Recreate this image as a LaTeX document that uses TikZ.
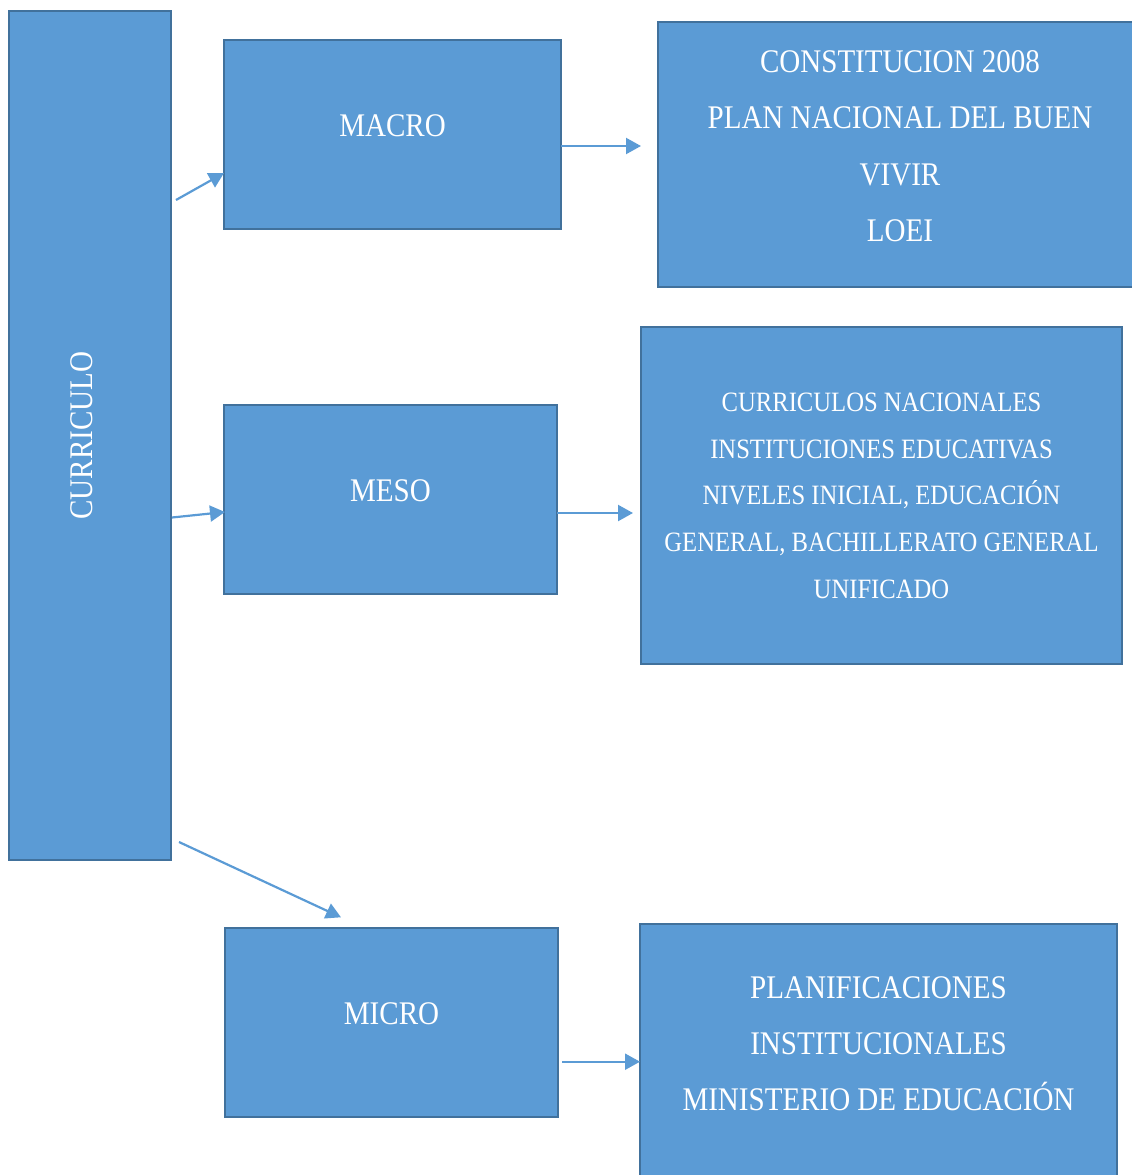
\documentclass[tikz,border=0pt]{standalone}
\usepackage{fontspec}
\setmainfont[FakeStretch=0.88]{Liberation Serif}
\usepackage{tikz}
\usetikzlibrary{arrows.meta,positioning}
\definecolor{boxfill}{HTML}{5B9BD5}
\definecolor{boxline}{HTML}{41719C}

\begin{document}
\begin{tikzpicture}[x=1pt,y=-1pt,
  box/.style={draw=boxline,fill=boxfill,line width=2pt,inner sep=0pt,outer sep=0pt,
    text=white,align=center,text depth=17pt},
  big/.style={font=\fontsize{33}{56.3}\selectfont},
  small/.style={font=\fontsize{28}{46.7}\selectfont},
  arr/.style={-{Triangle[length=15pt,width=16pt]},draw=boxfill,line width=2.2pt}]
  \useasboundingbox (0,0) rectangle (1132,1175);
  \clip (0,0) rectangle (1132,1175);

  % the tall box on the left (rotated, so its south side faces right)
  \node[box,big,rotate=90,minimum width=849,minimum height=162] (curriculo) at (90,435.5) {CURRICULO};

  % the three levels
  \node[box,big,minimum width=337,minimum height=189] (macro) at (392.5,134.5) {MACRO};
  \node[box,big,minimum width=333,minimum height=189] (meso)  at (390.5,499.5) {MESO};
  \node[box,big,minimum width=333,minimum height=189] (micro) at (391.5,1022.5) {MICRO};

  % what belongs to each level
  \node[box,big,minimum width=484,minimum height=265] (constitucion) at (900,154.5)
    {CONSTITUCION 2008\\PLAN NACIONAL DEL BUEN\\VIVIR\\LOEI};
  \node[box,small,text depth=0pt,minimum width=481,minimum height=337] (nacionales) at (881.5,495.5)
    {CURRICULOS NACIONALES\\INSTITUCIONES EDUCATIVAS\\NIVELES INICIAL, EDUCACIÓN\\GENERAL, BACHILLERATO GENERAL\\UNIFICADO};
  \node[box,big,minimum width=477,minimum height=257] (planificaciones) at (878.5,1052)
    {PLANIFICACIONES\\INSTITUCIONALES\\MINISTERIO DE EDUCACIÓN};

  % arrows
  \draw[arr] ([shift={(5,189)}]curriculo.south east) -- ([shift={(0,38.5)}]macro.west);
  \draw[arr] ([shift={(1,82)}]curriculo.south) -- ([shift={(1,12.5)}]meso.west);
  \draw[arr] ([shift={(8,-18)}]curriculo.south west) -- ([shift={(-50.5,-10.7)}]micro.north);
  \draw[arr] ([shift={(0,11.5)}]macro.east) -- ([shift={(-17,-8.5)}]constitucion.west);
  \draw[arr] ([shift={(0,13.5)}]meso.east) -- ([shift={(-8,17.5)}]nacionales.west);
  \draw[arr] ([shift={(4,39.2)}]micro.east) -- ([shift={(0,9.7)}]planificaciones.west);
\end{tikzpicture}
\end{document}
